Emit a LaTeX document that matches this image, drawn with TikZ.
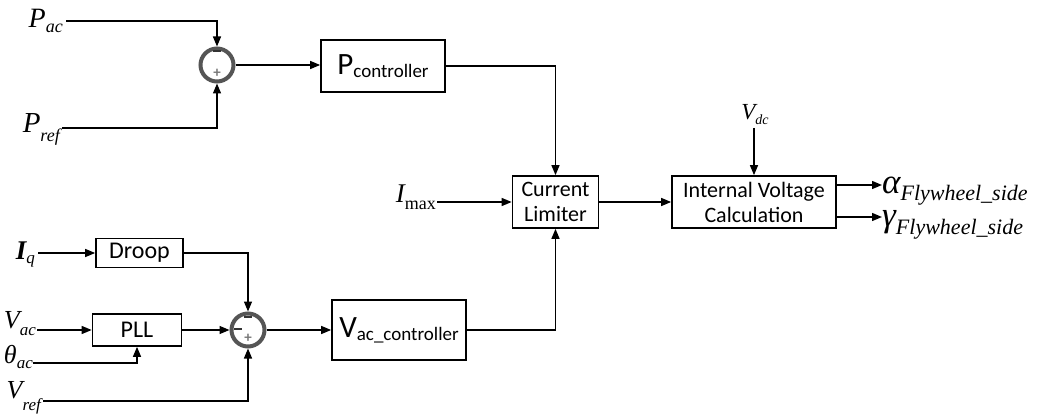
\documentclass[tikz,border=0pt]{standalone}
\usepackage{fontspec}
\setmainfont{Carlito}
\newfontfamily\tms{Liberation Serif}
\usetikzlibrary{arrows.meta,calc}

\definecolor{ringgray}{HTML}{555555}
\definecolor{signgray}{HTML}{777777}

% font size shortcut
\newcommand{\fsz}[1]{\fontsize{#1}{#1}\selectfont}
% variable with a lowered subscript: size, symbol, sub size, drop, subscript
\newcommand{\vsub}[5]{{\tms\fsz{#1}\itshape #2}\raisebox{-#4pt}{\tms\fsz{#3}#5}}
% block label with a lowered subscript
\newcommand{\bsub}[2]{{\fsz{31}#1}\raisebox{-3pt}{\fsz{19}#2}}

\begin{document}
\begin{tikzpicture}[x=1pt,y=-1pt,
  blk/.style={draw, line width=1.7pt, inner sep=0pt, align=center},
  two/.style={font=\fontsize{22}{25}\selectfont},
  sumc/.style={circle, draw=ringgray, line width=4pt, minimum size=33pt, inner sep=0pt},
  sig/.style={line width=1.4pt, -{Triangle[length=10pt,width=8pt]}},
  minus/.style={line width=2.8pt, draw=black!80},
  pl/.style={text=signgray, font=\fsz{15}\bfseries, inner sep=0pt},
  lbl/.style={inner sep=0pt},
]
\useasboundingbox (0,0) rectangle (1042,414);

% ---- power loop ----
\node[sumc] (s1) at (217,65) {};
\node[pl] (s1p) at ([yshift=-8pt]s1.center) {+};
\draw[minus] ([shift={(-4,-14)}]s1.center) -- ++(8,0);

\node[blk, minimum width=124pt, minimum height=52pt] (pctrl) at (383,66) {\bsub{P}{controller}};

\node[lbl, anchor=base east] (pac) at (63,28) {\vsub{28}{P}{18}{5}{\itshape ac}};
\node[lbl, anchor=base east] (pref) at (60,133) {\vsub{29}{P}{18}{9}{\itshape ref}};
\coordinate (pacS) at (66,21);
\coordinate (prefS) at (62,128);

\draw[sig] (pacS) -| (s1);
\draw[sig] (prefS) -| (s1);
\draw[sig] (s1) -- (s1 -| pctrl.west);

% ---- limiter and voltage calculation ----
\node[blk, two, minimum width=86pt, minimum height=52pt] (cl) at (555.5,202) {Current\\Limiter};
\node[blk, two, minimum width=164pt, minimum height=52pt] (ivc) at (754,202) {Internal Voltage\\Calculation};

\node[lbl, anchor=base east] (imax) at (436,203) {\vsub{27}{I}{18}{7}{max}};
\coordinate (imaxS) at (437,202);
\node[lbl, anchor=base] (vdc) at (755,120) {\vsub{23}{V}{14}{5}{\itshape dc}};
\coordinate (vdcS) at (754,128);

\draw[sig] (pctrl.east) -| (cl);
\draw[sig] (imaxS) -- (cl);
\draw[sig] (cl) -- (ivc);
\draw[sig] (vdcS) -- (vdcS |- ivc.north);

\coordinate (aT) at (882,185);
\coordinate (gT) at (882,217);
\node[lbl, anchor=base west] (alpha) at (882,194) {\vsub{35}{α}{22}{7}{\itshape Flywheel\_side}};
\node[lbl, anchor=base west] (gamma) at (882,227) {\vsub{35}{γ}{22}{8}{\itshape Flywheel\_side}};
\draw[sig] (ivc.east |- aT) -- (aT);
\draw[sig] (ivc.east |- gT) -- (gT);

% ---- voltage loop ----
\node[sumc] (s2) at (248,330) {};
\node[pl] (s2p) at ([yshift=-8pt]s2.center) {+};
\draw[minus] ([shift={(-4,-13)}]s2.center) -- ++(8,0);
\draw[minus] ([shift={(-14,-1)}]s2.center) -- ++(8,0);

\node[blk, minimum width=87pt, minimum height=29pt, font=\fsz{24}] (droop) at (139.5,253) {Droop};
\node[blk, minimum width=89pt, minimum height=32pt, font=\fsz{24}] (pll) at (137,330) {PLL};
\node[blk, minimum width=134pt, minimum height=60pt] (vctrl) at (399,330) {\bsub{V}{ac\_controller}};

\node[lbl, anchor=base east] (iq) at (35,260) {\vsub{27}{\bfseries I}{17}{4}{\itshape q}};
\node[lbl, anchor=base east] (vac) at (36,328) {\vsub{26}{V}{17}{7}{\itshape ac}};
\node[lbl, anchor=base east] (th) at (33,363) {\vsub{26}{θ}{17}{5}{\itshape ac}};
\node[lbl, anchor=base east] (vref) at (41,398) {\vsub{26}{V}{17}{12}{\itshape ref}};
\coordinate (iqS) at (38,253);
\coordinate (vacS) at (37,330);
\coordinate (thS) at (33,363);
\coordinate (vrefS) at (43,401);

\draw[sig] (iqS) -- (droop);
\draw[sig] (droop.east) -| (s2);
\draw[sig] (vacS) -- (pll);
\draw[sig] (thS) -| (pll);
\draw[sig] (pll) -- (s2);
\draw[sig] (vrefS) -| (s2);
\draw[sig] (s2) -- (vctrl);
\draw[sig] (vctrl.east) -| (cl);
\end{tikzpicture}
\end{document}
